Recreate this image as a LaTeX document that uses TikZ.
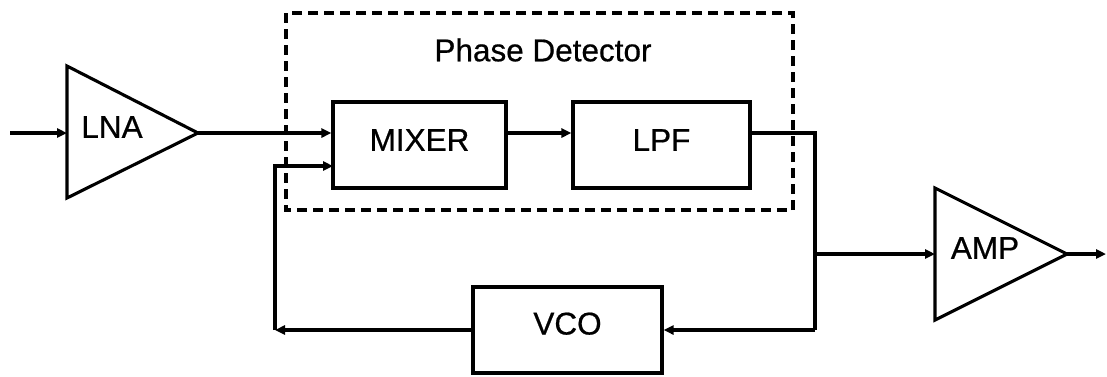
\documentclass[tikz,border=0pt]{standalone}
\usepackage{fontspec}
\setmainfont[FakeBold=0.6]{Liberation Sans}
\usetikzlibrary{arrows.meta}
\begin{document}
\begin{tikzpicture}[x=1pt,y=-1pt,
  line width=3.1pt,
  font=\fontsize{31.5}{36}\selectfont,
  arr/.style={-{Triangle[length=10pt,width=9pt]}},
  blk/.style={draw,minimum width=#1,minimum height=86pt,inner sep=0pt,text depth=10pt},
  amp/.style={draw,line join=miter},
  pdbox/.style={draw,dash pattern=on 10pt off 6pt,line width=3.3pt}
  ]
\useasboundingbox (0,0) rectangle (1107,376);
% dashed phase detector box
\draw[pdbox] (286,13) rectangle (793,210);
\node (pd) at (543,50) {Phase Detector};
% blocks
\node[blk=173pt] (mix) at (419.5,145) {MIXER};
\node[blk=177pt] (lpf) at (661.5,145) {LPF};
\node[blk=189pt,text depth=13pt] (vco) at (567.5,330) {VCO};
% amplifiers
\draw[amp] (67,66) -- (67,198) -- (198,133) -- cycle;
\coordinate (lnain) at (67,133);
\coordinate (lnaout) at (198,133);
\node (lna) at (112,127) {LNA};
\draw[amp] (935,188) -- (935,320) -- (1067,254) -- cycle;
\coordinate (ampin) at (935,254);
\coordinate (ampout) at (1067,254);
\node (ampt) at (985,248) {AMP};
% connectors
\coordinate (in) at (10,133);
\coordinate (out) at (1106,254);
\coordinate (rc) at (815,330);
\coordinate (tap) at (815,254);
\coordinate (lc) at (275,330);
\coordinate (m2) at (333,166);
\draw[arr] (in) -- (lnain);
\draw[arr] (lnaout) -- (mix.west |- lnaout);
\draw[arr] (mix.east |- lnaout) -- (lpf.west |- lnaout);
\draw (lpf.east |- lnaout) -| (rc);
\draw[arr] (rc) -- (vco.east);
\draw[arr] (vco.west) -- (lc);
\draw[arr] (lc) |- (m2);
\draw[arr] (tap) -- (ampin);
\draw[arr] (ampout) -- (out);
\end{tikzpicture}
\end{document}
